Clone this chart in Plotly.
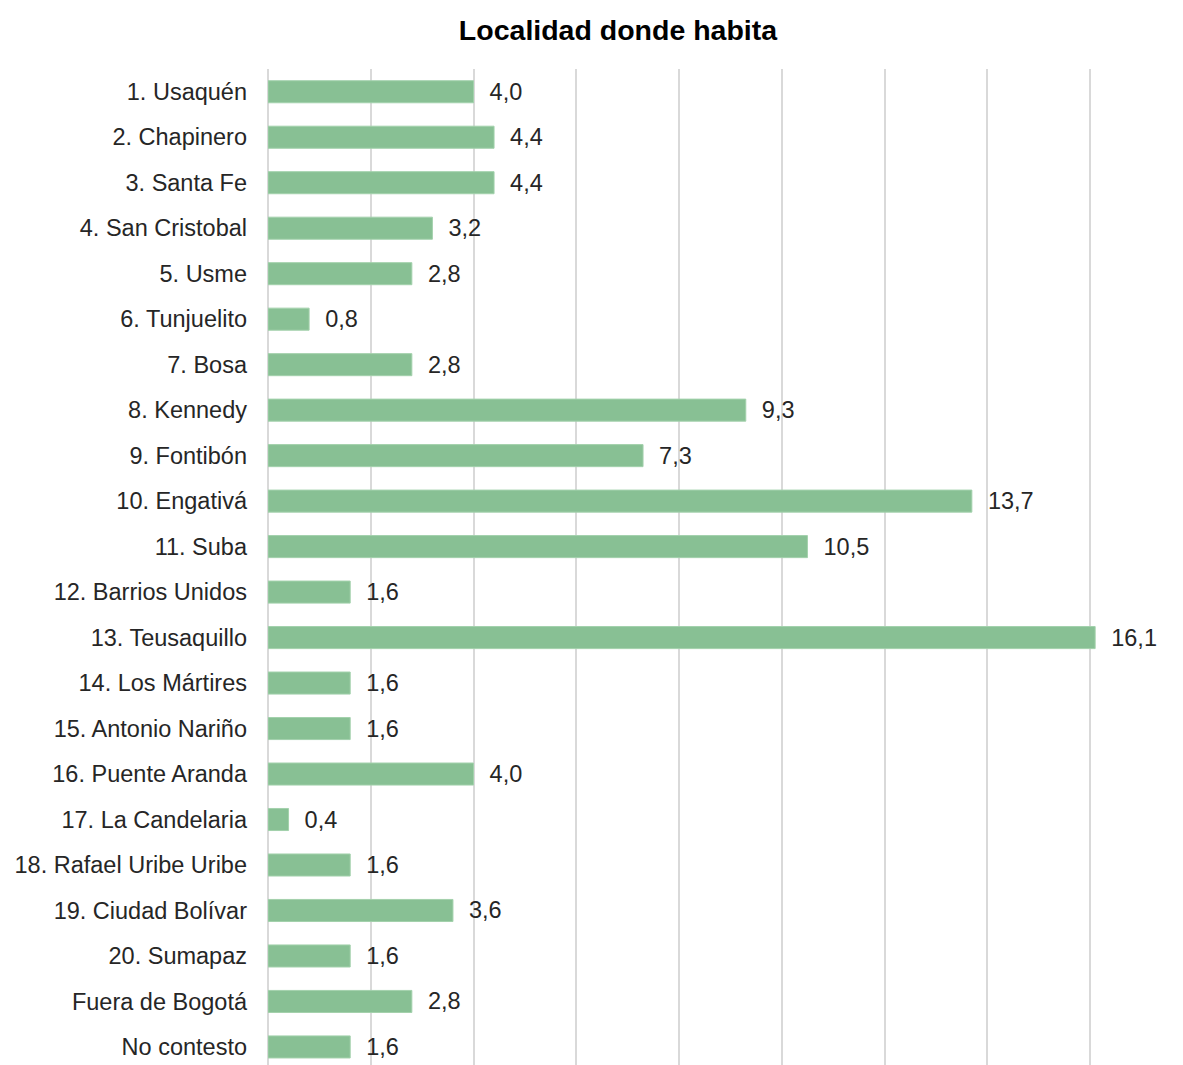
import plotly.graph_objects as go

categories = ["1. Usaquén", "2. Chapinero", "3. Santa Fe", "4. San Cristobal", "5. Usme",
              "6. Tunjuelito", "7. Bosa", "8. Kennedy", "9. Fontibón", "10. Engativá",
              "11. Suba", "12. Barrios Unidos", "13. Teusaquillo", "14. Los Mártires",
              "15. Antonio Nariño", "16. Puente Aranda", "17. La Candelaria",
              "18. Rafael Uribe Uribe", "19. Ciudad Bolívar", "20. Sumapaz",
              "Fuera de Bogotá", "No contesto"]
values = [4.0, 4.4, 4.4, 3.2, 2.8, 0.8, 2.8, 9.3, 7.3, 13.7, 10.5, 1.6, 16.1, 1.6, 1.6,
          4.0, 0.4, 1.6, 3.6, 1.6, 2.8, 1.6]
title = "Localidad donde habita"

labels = ["  " + f"{v:.1f}".replace(".", ",") for v in values]

OFF = 8  # page body margin
W, H = 1183 - OFF, 1065 - OFF
fig = go.Figure()
fig.add_trace(go.Bar(
    x=values, y=categories, orientation="h",
    marker=dict(color="#88c094", line=dict(color="#a3d1ac", width=1)),
    text=labels, textposition="outside", cliponaxis=False, constraintext="none",
    textfont=dict(family="Liberation Sans, Arial", size=23.5, color="#262626"),
    hoverinfo="skip",
))

fig.update_layout(
    width=W, height=H,
    margin=dict(l=268 - OFF, r=0, t=69 - OFF, b=0),
    plot_bgcolor="white", paper_bgcolor="white",
    bargap=0.515,
    showlegend=False,
    title=dict(text="<b>" + title + "</b>", x=(618 - OFF) / W, xref="container", xanchor="center",
               y=1 - (30 - OFF) / H, yref="container", yanchor="middle",
               font=dict(family="Liberation Sans, Arial", size=28.5, color="#000000")),
    font=dict(family="Liberation Sans, Arial", size=23.5, color="#262626"),
)
fig.update_xaxes(range=[0, 17.81], dtick=2, showgrid=True, gridcolor="#d9d9d9", gridwidth=2,
                 showticklabels=False, zeroline=True, zerolinecolor="#d9d9d9", zerolinewidth=2,
                 showline=False, ticks="")
fig.update_yaxes(categoryorder="array", categoryarray=categories,
                 range=[21.397, -0.5], showgrid=False, ticks="", ticklabelstandoff=20,
                 tickfont=dict(family="Liberation Sans, Arial", size=23.5, color="#262626"))

fig.write_html("out.html")
